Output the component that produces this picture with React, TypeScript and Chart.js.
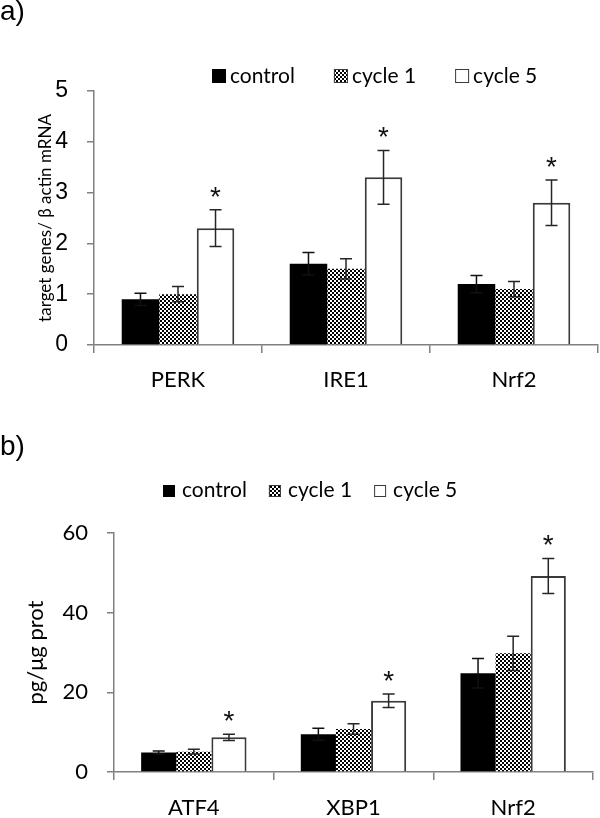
import React, { useEffect, useRef } from 'react';
import { Chart, registerables } from 'chart.js';

Chart.register(...registerables);

// ---------- data ----------
const seriesLabels = ['control', 'cycle 1', 'cycle 5'];

// panel a
const categoriesA = ['PERK', 'IRE1', 'Nrf2'];
const controlA = [0.9, 1.6, 1.2];
const cycle1A = [1.0, 1.5, 1.1];
const cycle5A = [2.3, 3.3, 2.8];
const controlErrA = [0.12, 0.22, 0.17];
const cycle1ErrA = [0.15, 0.2, 0.15];
const cycle5ErrA = [0.36, 0.53, 0.45];
const cycle5SigA = [true, true, true];
const yMinA = 0;
const yMaxA = 5;
const yStepA = 1;
const yTitleA = 'target genes/ β actin mRNA';

// panel b
const categoriesB = ['ATF4', 'XBP1', 'Nrf2'];
const controlB = [4.9, 9.5, 24.8];
const cycle1B = [5.1, 10.8, 29.8];
const cycle5B = [8.7, 17.9, 49.2];
const controlErrB = [0.4, 1.5, 3.7];
const cycle1ErrB = [0.6, 1.3, 4.3];
const cycle5ErrB = [0.8, 1.7, 4.4];
const cycle5SigB = [true, true, true];
const yMinB = 0;
const yMaxB = 60;
const yStepB = 20;
const yTitleB = 'pg/μg prot';

const noSig = [false, false, false];

// ---------- helpers ----------
const AXIS = '#808080';
const LATO = 'Lato, "Open Sans", sans-serif';
const ARIAL = '"Liberation Sans", Arial, sans-serif';

function makeChecker(): CanvasPattern | string {
  const c = document.createElement('canvas');
  c.width = 4;
  c.height = 4;
  const g = c.getContext('2d');
  if (!g) return '#888';
  g.fillStyle = '#ffffff';
  g.fillRect(0, 0, 4, 4);
  g.fillStyle = '#000000';
  g.fillRect(0, 0, 2, 2);
  g.fillRect(2, 2, 2, 2);
  return g.createPattern(c, 'repeat') || '#888';
}

type Spec = {
  panelLabel: string;
  labelX: number;
  labelBaseline: number;
  categories: string[];
  values: number[][];
  errors: number[][];
  sig: boolean[][];
  yMin: number;
  yMax: number;
  yStep: number;
  yTitle: string;
  yTitleFont: { family: string; size: number };
  yTitlePad: number;
  yTickFont: { family: string; size: number };
  yTickPad: number;
  catPad: number;
  padTop: number;
  padRight: number;
  yAxisWidth: number;
  xAxisHeight: number;
  catPct: number;
  legendX: number;
  legendBaseline: number;
  legendBox: number;
  legendGap: number;
  legendItemGap: number;
  legendFont: string;
};

const specA: Spec = {
  panelLabel: 'a)',
  labelX: 0,
  labelBaseline: 20,
  categories: categoriesA,
  values: [controlA, cycle1A, cycle5A],
  errors: [controlErrA, cycle1ErrA, cycle5ErrA],
  sig: [noSig, noSig, cycle5SigA],
  yMin: yMinA,
  yMax: yMaxA,
  yStep: yStepA,
  yTitle: yTitleA,
  yTitleFont: { family: LATO, size: 17 },
  yTitlePad: 35,
  yTickFont: { family: ARIAL, size: 23 },
  yTickPad: 19,
  catPad: 14,
  padTop: 91,
  padRight: 2,
  yAxisWidth: 94,
  xAxisHeight: 55,
  catPct: 0.67,
  legendX: 212,
  legendBaseline: 83,
  legendBox: 14,
  legendGap: 4,
  legendItemGap: 39,
  legendFont: `21px ${LATO}`,
};

const specB: Spec = {
  panelLabel: 'b)',
  labelX: 0,
  labelBaseline: 55,
  categories: categoriesB,
  values: [controlB, cycle1B, cycle5B],
  errors: [controlErrB, cycle1ErrB, cycle5ErrB],
  sig: [noSig, noSig, cycle5SigB],
  yMin: yMinB,
  yMax: yMaxB,
  yStep: yStepB,
  yTitle: yTitleB,
  yTitleFont: { family: LATO, size: 22 },
  yTitlePad: 23,
  yTickFont: { family: LATO, size: 22 },
  yTickPad: 19,
  catPad: 15,
  padTop: 133,
  padRight: 7,
  yAxisWidth: 114,
  xAxisHeight: 46,
  catPct: 0.66,
  legendX: 163,
  legendBaseline: 97,
  legendBox: 12,
  legendGap: 7,
  legendItemGap: 22,
  legendFont: `21px ${LATO}`,
};

function buildChart(canvas: HTMLCanvasElement, spec: Spec, pattern: CanvasPattern | string) {
  const fills = ['#000000', pattern, '#ffffff'];
  const borders = ['#000000', '#000000', '#3a3a3a'];
  const bws = [0, 0, 2];

  const datasets = spec.values.map((vals, i) => ({
    label: seriesLabels[i],
    data: vals,
    errorBars: spec.errors[i],
    significant: spec.sig[i],
    backgroundColor: fills[i],
    borderColor: borders[i],
    borderWidth: bws[i],
    categoryPercentage: spec.catPct,
    barPercentage: 1.0,
  }));

  const errorPlugin = {
    id: 'errorBars',
    afterDatasetsDraw(chart: any) {
      const ctx = chart.ctx as CanvasRenderingContext2D;
      const yScale = chart.scales.y;
      ctx.save();
      chart.data.datasets.forEach((ds: any, i: number) => {
        const meta = chart.getDatasetMeta(i);
        meta.data.forEach((bar: any, j: number) => {
          const v = ds.data[j];
          const e = ds.errorBars[j];
          const x = bar.x;
          const yTop = yScale.getPixelForValue(v + e);
          const yBot = yScale.getPixelForValue(v - e);
          const cap = 6;
          ctx.strokeStyle = i === 0 ? '#111111' : '#262626';
          ctx.lineWidth = 1.5;
          ctx.beginPath();
          ctx.moveTo(x, yTop);
          ctx.lineTo(x, yBot);
          ctx.moveTo(x - cap, yTop);
          ctx.lineTo(x + cap, yTop);
          ctx.moveTo(x - cap, yBot);
          ctx.lineTo(x + cap, yBot);
          ctx.stroke();
          if (ds.significant && ds.significant[j]) {
            ctx.fillStyle = '#111';
            ctx.font = `28px ${ARIAL}`;
            ctx.textAlign = 'center';
            ctx.textBaseline = 'alphabetic';
            ctx.fillText('*', x, yTop - 20 + 16);
          }
        });
      });
      ctx.restore();
    },
  };

  const decorPlugin = {
    id: 'decor',
    afterDraw(chart: any) {
      const ctx = chart.ctx as CanvasRenderingContext2D;
      ctx.save();
      ctx.fillStyle = '#000';
      ctx.textAlign = 'left';
      ctx.textBaseline = 'alphabetic';
      ctx.font = `28px ${ARIAL}`;
      ctx.fillText(spec.panelLabel, spec.labelX, spec.labelBaseline);

      ctx.font = spec.legendFont;
      let x = spec.legendX;
      const b = spec.legendBox;
      chart.data.datasets.forEach((ds: any, i: number) => {
        const top = spec.legendBaseline - b;
        ctx.fillStyle = ds.backgroundColor;
        ctx.fillRect(x, top, b, b);
        if (i > 0) {
          ctx.strokeStyle = '#3a3a3a';
          ctx.lineWidth = 1;
          ctx.strokeRect(x + 0.5, top + 0.5, b - 1, b - 1);
        }
        x += b + spec.legendGap;
        ctx.fillStyle = '#000';
        ctx.fillText(ds.label, x, spec.legendBaseline);
        x += ctx.measureText(ds.label).width + spec.legendItemGap;
      });
      ctx.restore();
    },
  };

  return new Chart(canvas, {
    type: 'bar',
    data: { labels: spec.categories, datasets: datasets as any },
    options: {
      responsive: false,
      animation: false,
      events: [],
      layout: { padding: { top: spec.padTop, right: spec.padRight, bottom: 0, left: 0 } },
      plugins: {
        legend: { display: false },
        tooltip: { enabled: false },
        title: { display: false },
      },
      scales: {
        x: {
          offset: true,
          grid: {
            display: true,
            offset: true,
            drawOnChartArea: false,
            drawTicks: true,
            tickLength: 8,
            color: AXIS,
            lineWidth: 1.5,
          },
          border: { display: true, color: AXIS, width: 1.5 },
          ticks: {
            color: '#000',
            font: { family: LATO, size: 22 },
            padding: spec.catPad,
            maxRotation: 0,
            autoSkip: false,
          },
          afterFit: (scale: any) => {
            scale.height = spec.xAxisHeight;
          },
        },
        y: {
          min: spec.yMin,
          max: spec.yMax,
          grid: {
            display: true,
            drawOnChartArea: false,
            drawTicks: true,
            tickLength: 7,
            color: AXIS,
            lineWidth: 1.5,
          },
          border: { display: true, color: AXIS, width: 1.5 },
          ticks: {
            stepSize: spec.yStep,
            color: '#000',
            font: spec.yTickFont,
            padding: spec.yTickPad,
          },
          title: {
            display: true,
            text: spec.yTitle,
            color: '#000',
            font: spec.yTitleFont,
            padding: { top: spec.yTitlePad, bottom: 0 },
          },
          afterFit: (scale: any) => {
            scale.width = spec.yAxisWidth;
          },
        },
      },
    } as any,
    plugins: [errorPlugin, decorPlugin],
  });
}

export default function App() {
  const refA = useRef<HTMLCanvasElement>(null);
  const refB = useRef<HTMLCanvasElement>(null);

  useEffect(() => {
    if (!refA.current || !refB.current) return;
    const pattern = makeChecker();
    const ca = buildChart(refA.current, specA, pattern);
    const cb = buildChart(refB.current, specB, pattern);
    return () => {
      ca.destroy();
      cb.destroy();
    };
  }, []);

  return (
    <div style={{ position: 'absolute', left: 0, top: 0, width: 600, height: 818, background: '#fff', overflow: 'hidden' }}>
      <canvas
        ref={refA}
        width={600}
        height={400}
        style={{ position: 'absolute', left: 0, top: 0, width: 600, height: 400, display: 'block' }}
      />
      <canvas
        ref={refB}
        width={600}
        height={418}
        style={{ position: 'absolute', left: 0, top: 400, width: 600, height: 418, display: 'block' }}
      />
    </div>
  );
}
